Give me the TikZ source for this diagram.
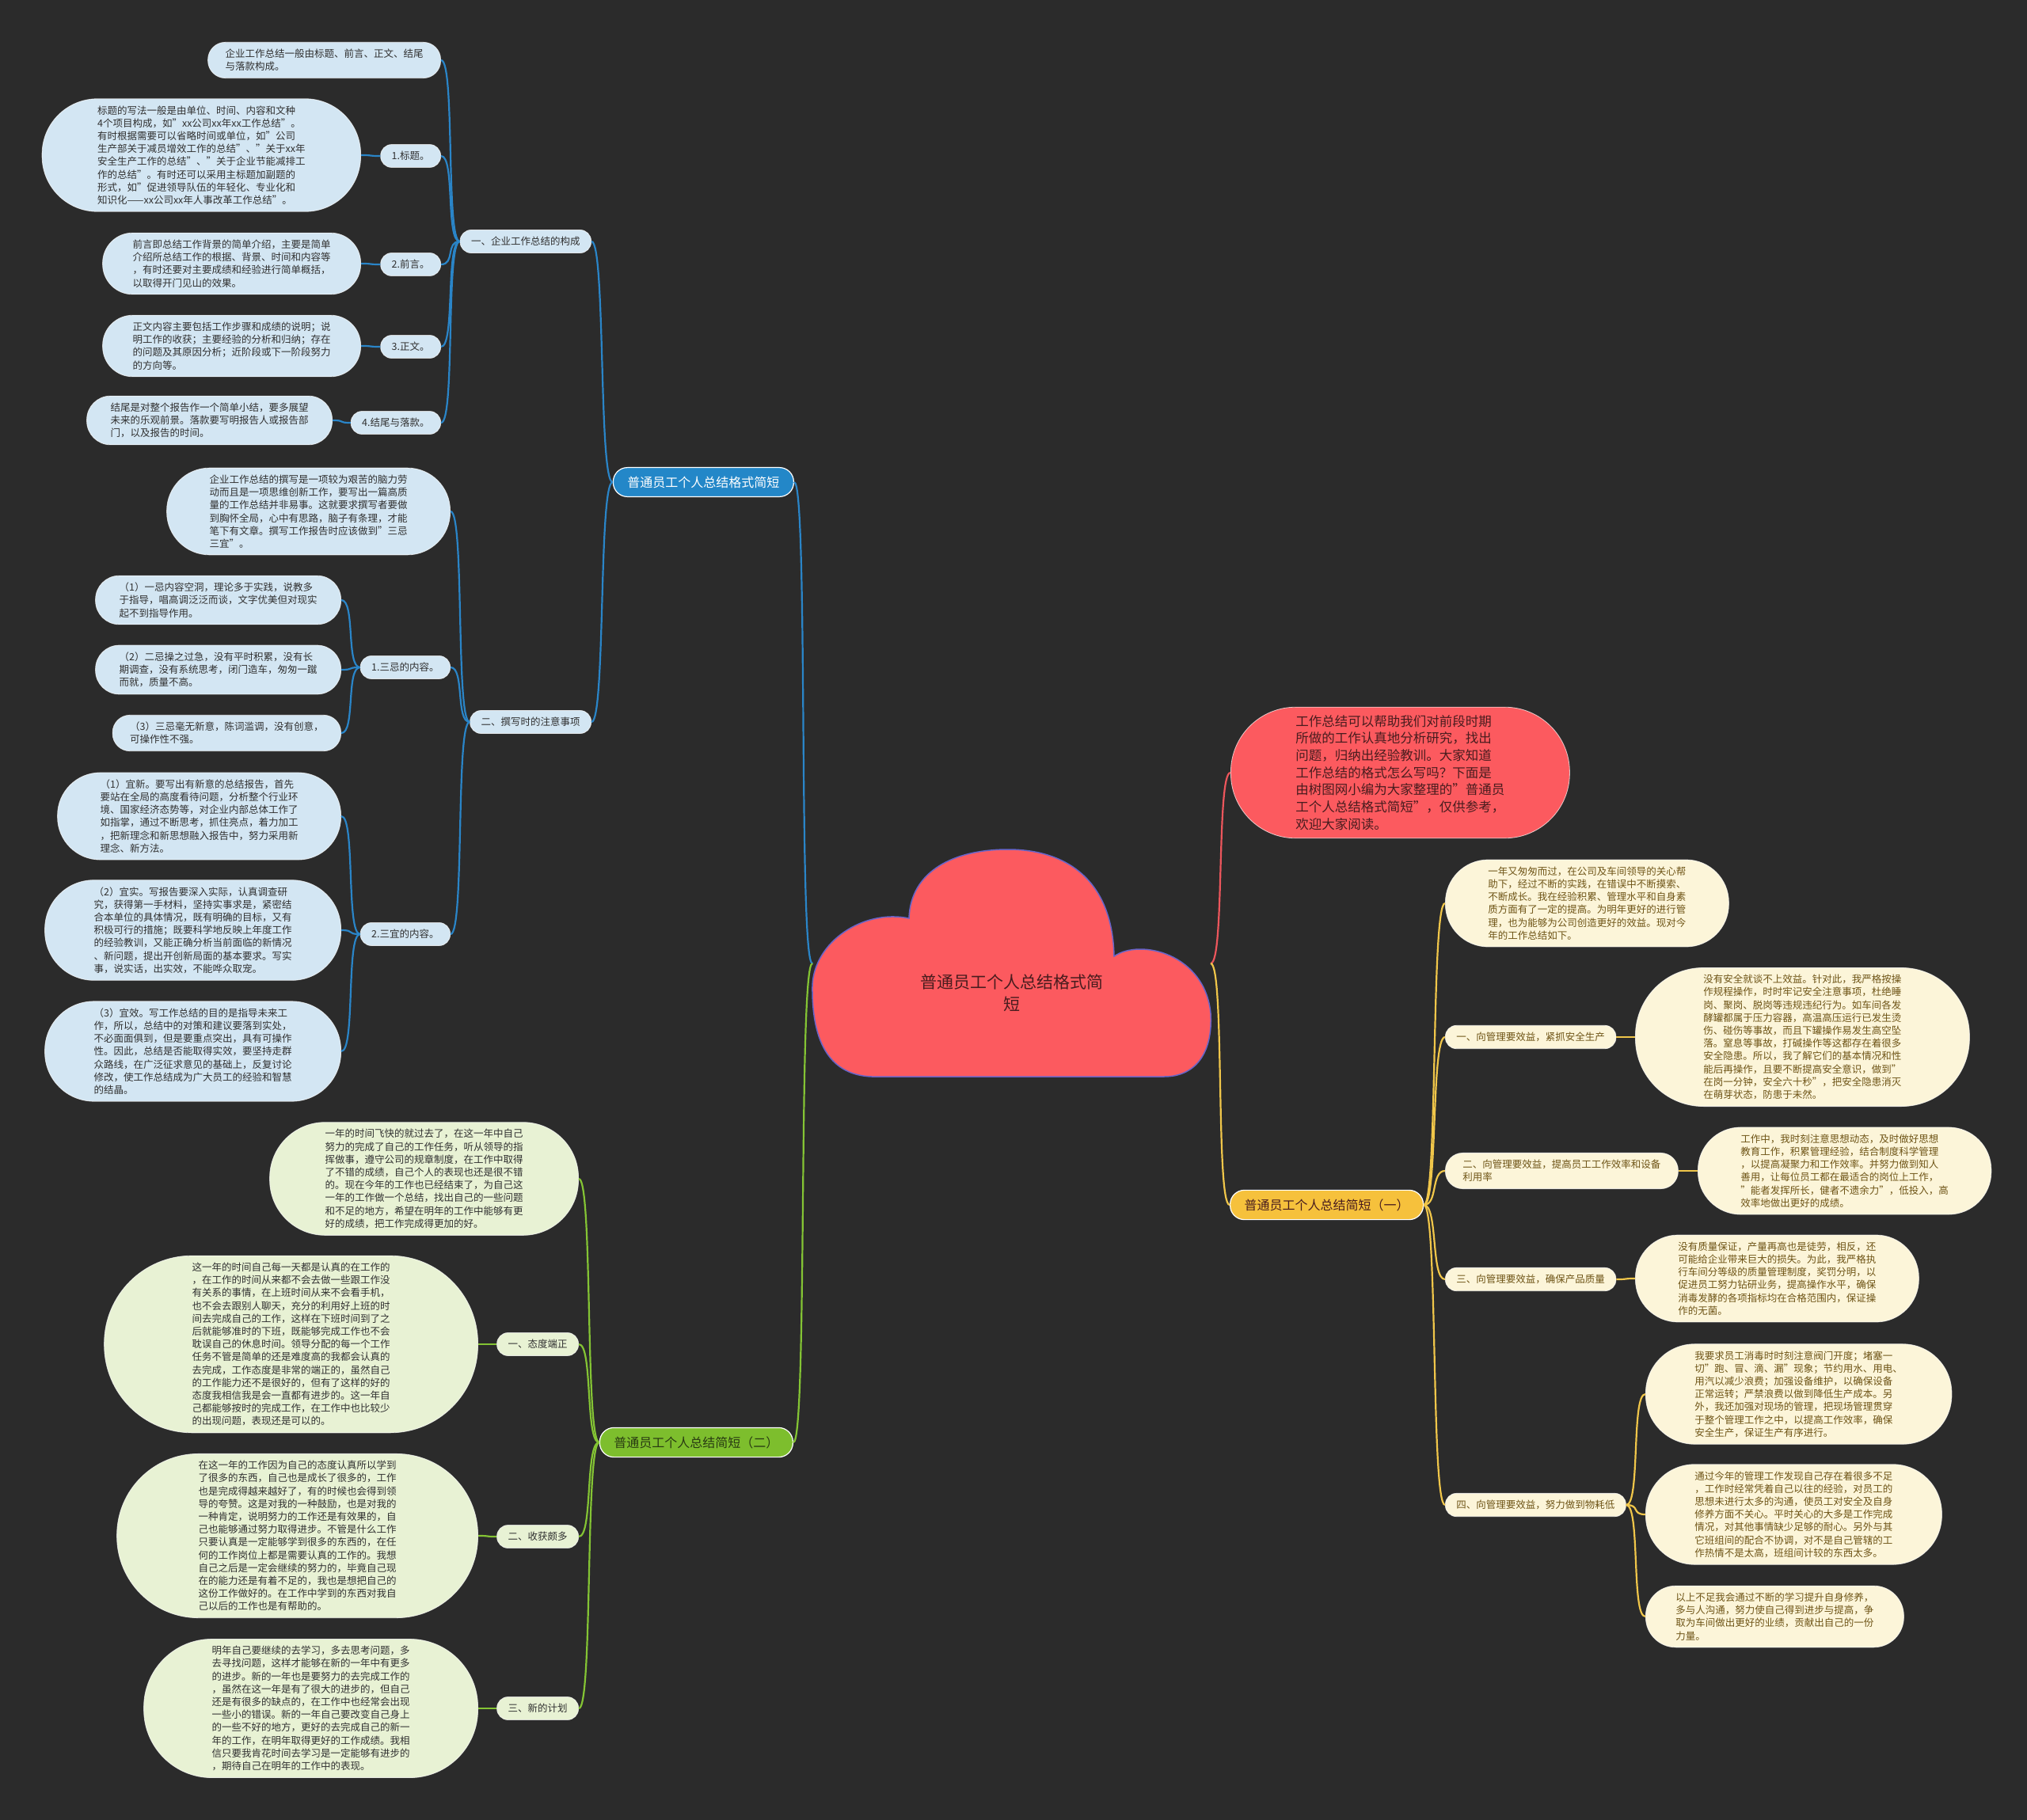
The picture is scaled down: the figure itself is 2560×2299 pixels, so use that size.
\documentclass[tikz,border=0pt]{standalone}
\usepackage{fontspec}
\setmainfont{Noto Sans CJK SC}
\definecolor{bgc}{RGB}{43,43,43}
\definecolor{bline}{RGB}{42,133,200}
\definecolor{bmain}{RGB}{35,135,200}
\definecolor{bleaf}{RGB}{211,230,243}
\definecolor{gline}{RGB}{132,196,52}
\definecolor{gmain}{RGB}{125,190,45}
\definecolor{gleaf}{RGB}{232,242,212}
\definecolor{gtext}{RGB}{40,58,18}
\definecolor{yline}{RGB}{240,198,74}
\definecolor{ymain}{RGB}{246,193,60}
\definecolor{yleaf}{RGB}{252,245,217}
\definecolor{ytext}{RGB}{110,84,22}
\definecolor{rfill}{RGB}{252,90,95}
\definecolor{rline}{RGB}{236,86,92}
\definecolor{rtext}{RGB}{72,28,30}
\definecolor{cedge}{RGB}{104,100,200}
\definecolor{dtext}{RGB}{48,48,48}
\tikzset{pill/.style={rectangle,inner xsep=#1,rounded corners=#1,inner ysep=8.7pt,align=left,draw=white,draw opacity=.7,line width=.8pt,text=dtext,font=\fontsize{12.5}{16.2}\selectfont},pill/.default=14,
bl/.style={pill=#1,fill=bleaf},bl/.default=14,
gl/.style={pill=#1,fill=gleaf},gl/.default=14,
yl/.style={pill=#1,fill=yleaf,text=ytext},yl/.default=14,
mainb/.style={rectangle,inner xsep=18pt,rounded corners=18pt,inner ysep=11pt,draw=white,line width=1.2pt,font=\fontsize{16}{20}\selectfont},
lkl/.style={line width=2.2pt,to path={.. controls +(-18,0) and +(18,0) .. (\tikztotarget)}},
lkr/.style={line width=2.2pt,to path={.. controls +(18,0) and +(-18,0) .. (\tikztotarget)}}}
\begin{document}
\begin{tikzpicture}[x=1pt,y=-1pt]
\fill[bgc](0,0)rectangle(2560,2299);
\useasboundingbox(0,0)rectangle(2560,2299);
% center cloud
\draw[fill=rfill,draw=cedge,line width=1.5pt](1101,1360)..controls(1050,1358)and(1025,1320)..(1026,1245)..controls(1028,1190)and(1090,1148)..(1148,1160)..controls(1150,1100)and(1205,1073)..(1273,1073)..controls(1345,1073)and(1405,1110)..(1407,1208)..controls(1440,1185)and(1522,1205)..(1529,1280)..controls(1532,1330)and(1510,1360)..(1470,1360)--cycle;
\node[font=\fontsize{21}{28}\selectfont,text=rtext,align=center](root)at(1278,1254){普通员工个人总结格式简\\短};
\coordinate(rootl)at(1026,1217);
\coordinate(rootr)at(1529,1217);
\node[pill=82,fill=rfill,text=rtext,font=\fontsize{16.5}{21.7}\selectfont,inner ysep=10pt,anchor=west](intro)at(1554,976){工作总结可以帮助我们对前段时期\\所做的工作认真地分析研究，找出\\问题，归纳出经验教训。大家知道\\工作总结的格式怎么写吗？下面是\\由树图网小编为大家整理的"普通员\\工个人总结格式简短"，仅供参考，\\欢迎大家阅读。};
% blue branch
\node[mainb,fill=bmain,text=white,anchor=east](fmt)at(1003,609){普通员工个人总结格式简短};
\node[bl,anchor=east](s1)at(747,305){一、企业工作总结的构成};
\node[bl,anchor=east](s2)at(747,912){二、撰写时的注意事项};
\node[bl=22,anchor=east](s1a)at(557,76){企业工作总结一般由标题、前言、正文、结尾\\与落款构成。};
\node[bl,anchor=east](t1)at(557,197){1.标题。};
\node[bl,anchor=east](t2)at(557,334){2.前言。};
\node[bl,anchor=east](t3)at(557,438){3.正文。};
\node[bl,anchor=east](t4)at(557,534){4.结尾与落款。};
\node[bl=70,anchor=east](t1a)at(456,196){标题的写法一般是由单位、时间、内容和文种\\4个项目构成，如"xx公司xx年xx工作总结"。\\有时根据需要可以省略时间或单位，如"公司\\生产部关于减员增效工作的总结"、"关于xx年\\安全生产工作的总结"、"关于企业节能减排工\\作的总结"。有时还可以采用主标题加副题的\\形式，如"促进领导队伍的年轻化、专业化和\\知识化——xx公司xx年人事改革工作总结"。};
\node[bl=38,anchor=east](t2a)at(456,333){前言即总结工作背景的简单介绍，主要是简单\\介绍所总结工作的根据、背景、时间和内容等\\，有时还要对主要成绩和经验进行简单概括，\\以取得开门见山的效果。};
\node[bl=38,anchor=east](t3a)at(456,437){正文内容主要包括工作步骤和成绩的说明；说\\明工作的收获；主要经验的分析和归纳；存在\\的问题及其原因分析；近阶段或下一阶段努力\\的方向等。};
\node[bl=30,anchor=east](t4a)at(420,531){结尾是对整个报告作一个简单小结，要多展望\\未来的乐观前景。落款要写明报告人或报告部\\门，以及报告的时间。};
\node[bl=54,anchor=east](s2a)at(569,646){企业工作总结的撰写是一项较为艰苦的脑力劳\\动而且是一项思维创新工作，要写出一篇高质\\量的工作总结并非易事。这就要求撰写者要做\\到胸怀全局，心中有思路，脑子有条理，才能\\笔下有文章。撰写工作报告时应该做到"三忌\\三宜"。};
\node[bl,anchor=east](j1)at(569,843){1.三忌的内容。};
\node[bl,anchor=east](j2)at(569,1180){2.三宜的内容。};
\node[bl=30,anchor=east](j1a)at(431,758){（1）一忌内容空洞，理论多于实践，说教多\\于指导，唱高调泛泛而谈，文字优美但对现实\\起不到指导作用。};
\node[bl=30,anchor=east](j1b)at(431,846){（2）二忌操之过急，没有平时积累，没有长\\期调查，没有系统思考，闭门造车，匆匆一蹴\\而就，质量不高。};
\node[bl=22,anchor=east](j1c)at(431,926){（3）三忌毫无新意，陈词滥调，没有创意，\\可操作性不强。};
\node[bl=54,anchor=east](j2a)at(431,1031){（1）宜新。要写出有新意的总结报告，首先\\要站在全局的高度看待问题，分析整个行业环\\境、国家经济态势等，对企业内部总体工作了\\如指掌，通过不断思考，抓住亮点，着力加工\\，把新理念和新思想融入报告中，努力采用新\\理念、新方法。};
\node[bl=62,anchor=east](j2b)at(431,1175){（2）宜实。写报告要深入实际，认真调查研\\究，获得第一手材料，坚持实事求是，紧密结\\合本单位的具体情况，既有明确的目标，又有\\积极可行的措施；既要科学地反映上年度工作\\的经验教训，又能正确分析当前面临的新情况\\、新问题，提出开创新局面的基本要求。写实\\事，说实话，出实效，不能哗众取宠。};
\node[bl=62,anchor=east](j2c)at(431,1328){（3）宜效。写工作总结的目的是指导未来工\\作，所以，总结中的对策和建议要落到实处，\\不必面面俱到，但是要重点突出，具有可操作\\性。因此，总结是否能取得实效，要坚持走群\\众路线，在广泛征求意见的基础上，反复讨论\\修改，使工作总结成为广大员工的经验和智慧\\的结晶。};
% green branch
\node[mainb,fill=gmain,text=gtext,anchor=east](sum2)at(1002,1822){普通员工个人总结简短（二）};
\node[gl=70,anchor=east](g0)at(731,1489){一年的时间飞快的就过去了，在这一年中自己\\努力的完成了自己的工作任务，听从领导的指\\挥做事，遵守公司的规章制度，在工作中取得\\了不错的成绩，自己个人的表现也还是很不错\\的。现在今年的工作也已经结束了，为自己这\\一年的工作做一个总结，找出自己的一些问题\\和不足的地方，希望在明年的工作中能够有更\\好的成绩，把工作完成得更加的好。};
\node[gl,anchor=east](g1)at(731,1698){一、态度端正};
\node[gl,anchor=east](g2)at(731,1941){二、收获颇多};
\node[gl,anchor=east](g3)at(731,2158){三、新的计划};
\node[gl=111,anchor=east](g1a)at(604,1698){这一年的时间自己每一天都是认真的在工作的\\，在工作的时间从来都不会去做一些跟工作没\\有关系的事情，在上班时间从来不会看手机，\\也不会去跟别人聊天，充分的利用好上班的时\\间去完成自己的工作，这样在下班时间到了之\\后就能够准时的下班，既能够完成工作也不会\\耽误自己的休息时间。领导分配的每一个工作\\任务不管是简单的还是难度高的我都会认真的\\去完成，工作态度是非常的端正的，虽然自己\\的工作能力还不是很好的，但有了这样的好的\\态度我相信我是会一直都有进步的。这一年自\\己都能够按时的完成工作，在工作中也比较少\\的出现问题，表现还是可以的。};
\node[gl=103,anchor=east](g2a)at(604,1940){在这一年的工作因为自己的态度认真所以学到\\了很多的东西，自己也是成长了很多的，工作\\也是完成得越来越好了，有的时候也会得到领\\导的夸赞。这是对我的一种鼓励，也是对我的\\一种肯定，说明努力的工作还是有效果的，自\\己也能够通过努力取得进步。不管是什么工作\\只要认真是一定能够学到很多的东西的，在任\\何的工作岗位上都是需要认真的工作的。我想\\自己之后是一定会继续的努力的，毕竟自己现\\在的能力还是有着不足的，我也是想把自己的\\这份工作做好的。在工作中学到的东西对我自\\己以后的工作也是有帮助的。};
\node[gl=86,anchor=east](g3a)at(604,2158){明年自己要继续的去学习，多去思考问题，多\\去寻找问题，这样才能够在新的一年中有更多\\的进步。新的一年也是要努力的去完成工作的\\，虽然在这一年是有了很大的进步的，但自己\\还是有很多的缺点的，在工作中也经常会出现\\一些小的错误。新的一年自己要改变自己身上\\的一些不好的地方，更好的去完成自己的新一\\年的工作，在明年取得更好的工作成绩。我相\\信只要我肯花时间去学习是一定能够有进步的\\，期待自己在明年的工作中的表现。};
% yellow branch
\node[mainb,fill=ymain,text=rtext,anchor=west](sum1)at(1553,1522){普通员工个人总结简短（一）};
\node[yl=54,anchor=west](y0)at(1825,1141){一年又匆匆而过，在公司及车间领导的关心帮\\助下，经过不断的实践，在错误中不断摸索、\\不断成长。我在经验积累、管理水平和自身素\\质方面有了一定的提高。为明年更好的进行管\\理，也为能够为公司创造更好的效益。现对今\\年的工作总结如下。};
\node[yl,anchor=west](y1)at(1825,1310){一、向管理要效益，紧抓安全生产};
\node[yl=22,anchor=west](y2)at(1825,1479){二、向管理要效益，提高员工工作效率和设备\\利用率};
\node[yl,anchor=west](y3)at(1825,1616){三、向管理要效益，确保产品质量};
\node[yl,anchor=west](y4)at(1825,1901){四、向管理要效益，努力做到物耗低};
\node[yl=86,anchor=west](y1a)at(2065,1310){没有安全就谈不上效益。针对此，我严格按操\\作规程操作，时时牢记安全注意事项，杜绝睡\\岗、聚岗、脱岗等违规违纪行为。如车间各发\\酵罐都属于压力容器，高温高压运行已发生烫\\伤、碰伤等事故，而且下罐操作易发生高空坠\\落。窒息等事故，打碱操作等这都存在着很多\\安全隐患。所以，我了解它们的基本情况和性\\能后再操作，且要不断提高安全意识，做到"\\在岗一分钟，安全六十秒"，把安全隐患消灭\\在萌芽状态，防患于未然。};
\node[yl=54,anchor=west](y2a)at(2144,1479){工作中，我时刻注意思想动态，及时做好思想\\教育工作，积累管理经验，结合制度科学管理\\，以提高凝聚力和工作效率。并努力做到知人\\善用，让每位员工都在最适合的岗位上工作，\\"能者发挥所长，健者不遗余力"，低投入，高\\效率地做出更好的成绩。};
\node[yl=54,anchor=west](y3a)at(2065,1615){没有质量保证，产量再高也是徒劳，相反，还\\可能给企业带来巨大的损失。为此，我严格执\\行车间分等级的质量管理制度，奖罚分明，以\\促进员工努力钻研业务，提高操作水平，确保\\消毒发酵的各项指标均在合格范围内，保证操\\作的无菌。};
\node[yl=62,anchor=west](y4a)at(2078,1761){我要求员工消毒时时刻注意阀门开度；堵塞一\\切"跑、冒、滴、漏"现象；节约用水、用电、\\用汽以减少浪费；加强设备维护，以确保设备\\正常运转；严禁浪费以做到降低生产成本。另\\外，我还加强对现场的管理，把现场管理贯穿\\于整个管理工作之中，以提高工作效率，确保\\安全生产，保证生产有序进行。};
\node[yl=62,anchor=west](y4b)at(2078,1913){通过今年的管理工作发现自己存在着很多不足\\，工作时经常凭着自己以往的经验，对员工的\\思想未进行太多的沟通，使员工对安全及自身\\修养方面不关心。平时关心的大多是工作完成\\情况，对其他事情缺少足够的耐心。另外与其\\它班组间的配合不协调，对不是自己管辖的工\\作热情不是太高，班组间计较的东西太多。};
\node[yl=38,anchor=west](y4c)at(2078,2042){以上不足我会通过不断的学习提升自身修养，\\多与人沟通，努力使自己得到进步与提高，争\\取为车间做出更好的业绩，贡献出自己的一份\\力量。};
% connectors
\draw[rline,lkr](rootr)to(intro.west);
\foreach\a/\b in{rootl/fmt.east,fmt.west/s1.east,fmt.west/s2.east,s1.west/s1a.east,s1.west/t1.east,s1.west/t2.east,s1.west/t3.east,s1.west/t4.east,t1.west/t1a.east,t2.west/t2a.east,t3.west/t3a.east,t4.west/t4a.east,s2.west/s2a.east,s2.west/j1.east,s2.west/j2.east,j1.west/j1a.east,j1.west/j1b.east,j1.west/j1c.east,j2.west/j2a.east,j2.west/j2b.east,j2.west/j2c.east}\draw[bline,lkl](\a)to(\b);
\foreach\a/\b in{rootl/sum2.east,sum2.west/g0.east,sum2.west/g1.east,sum2.west/g2.east,sum2.west/g3.east,g1.west/g1a.east,g2.west/g2a.east,g3.west/g3a.east}\draw[gline,lkl](\a)to(\b);
\foreach\a/\b in{rootr/sum1.west,sum1.east/y0.west,sum1.east/y1.west,sum1.east/y2.west,sum1.east/y3.west,sum1.east/y4.west,y1.east/y1a.west,y2.east/y2a.west,y3.east/y3a.west,y4.east/y4a.west,y4.east/y4b.west,y4.east/y4c.west}\draw[yline,lkr](\a)to(\b);
\end{tikzpicture}
\end{document}
